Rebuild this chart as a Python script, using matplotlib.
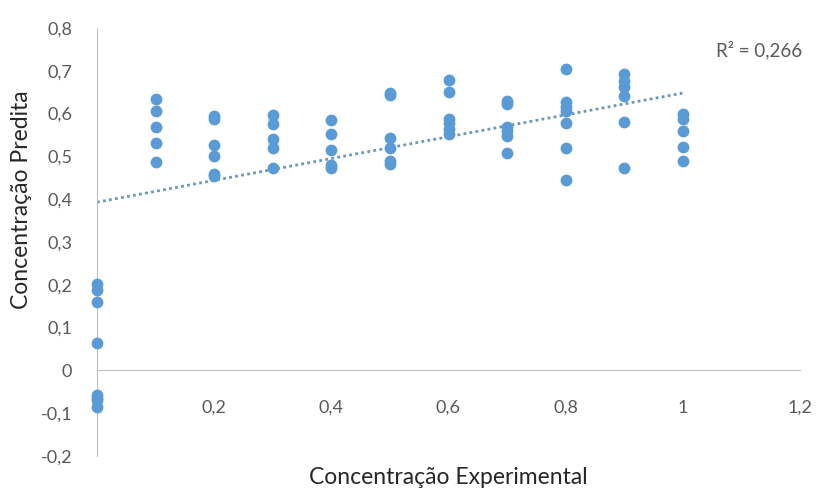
import matplotlib.pyplot as plt
import numpy as np

plt.rcParams['font.family'] = ['Lato', 'DejaVu Sans']

# x-values (experimental concentration) and predicted values
x_levels = [0.0, 0.1, 0.2, 0.3, 0.4, 0.5, 0.6, 0.7, 0.8, 0.9, 1.0]
y_pred = [
    [0.203, 0.187, 0.159, 0.065, -0.058, -0.065, -0.070, -0.086],
    [0.634, 0.606, 0.569, 0.531, 0.486],
    [0.595, 0.587, 0.527, 0.501, 0.459, 0.455],
    [0.596, 0.575, 0.540, 0.519, 0.474],
    [0.585, 0.553, 0.515, 0.480, 0.473],
    [0.649, 0.643, 0.543, 0.519, 0.490, 0.482],
    [0.678, 0.651, 0.587, 0.577, 0.564, 0.552],
    [0.630, 0.622, 0.569, 0.560, 0.548, 0.507],
    [0.705, 0.626, 0.616, 0.606, 0.578, 0.519, 0.446],
    [0.693, 0.676, 0.661, 0.641, 0.581, 0.474],
    [0.599, 0.587, 0.560, 0.521, 0.490],
]
# trendline as shown in the chart (intercept, slope) and its R² label
trend_coef = (0.393, 0.255)
r2_label = 'R² = 0,266'

x_ticks = [0, 0.2, 0.4, 0.6, 0.8, 1.0, 1.2]
y_ticks = [-0.2, -0.1, 0, 0.1, 0.2, 0.3, 0.4, 0.5, 0.6, 0.7, 0.8]

xs = np.concatenate([[x] * len(v) for x, v in zip(x_levels, y_pred)])
ys = np.concatenate(y_pred)

fig = plt.figure(figsize=(8.17, 4.88), dpi=100)
ax = fig.add_axes([97 / 817, 1 - 456 / 488, (800 - 97) / 817, (456 - 28) / 488])

blue = '#5b9bd5'
grey_txt = '#595959'

ax.plot(xs, ys, 'o', color=blue, markersize=8.5, markeredgewidth=0, zorder=3,
        clip_on=False)

xt = np.array([0, 1.0])
ax.plot(xt, trend_coef[0] + trend_coef[1] * xt, linestyle=(0, (1, 1.2)),
        color='#6a95c2', linewidth=2.0, zorder=2)

ax.set_xlim(0, 1.2)
ax.set_ylim(-0.2, 0.8)

def fmt(v):
    s = ('%g' % round(v, 1)).replace('.', ',')
    return '0' if s == '-0' else s

ax.set_xticks(x_ticks)
ax.set_xticklabels([fmt(v) for v in x_ticks])
ax.set_yticks(y_ticks)
ax.set_yticklabels([fmt(v) for v in y_ticks])
ax.tick_params(axis='both', length=0, labelsize=13, colors=grey_txt)
ax.tick_params(axis='x', pad=21)
ax.tick_params(axis='y', pad=18)

for s in ['top', 'right']:
    ax.spines[s].set_visible(False)
ax.spines['left'].set_color('#bfbfbf')
ax.spines['bottom'].set_position(('data', 0))
ax.spines['bottom'].set_color('#bfbfbf')
ax.spines['bottom'].set_bounds(0, 1.2)

fig.text(448 / 817, 1 - 477 / 488, 'Concentração Experimental', ha='center', va='center',
         fontsize=16.5, color='#262626')
fig.text(22 / 817, 1 - 200 / 488, 'Concentração Predita', ha='center', va='center',
         rotation=90, fontsize=16.5, color='#262626')
fig.text(802 / 817, 1 - 50 / 488, r2_label, ha='right', va='center',
         fontsize=13.5, color=grey_txt)

fig.savefig('out.png', dpi=100)
